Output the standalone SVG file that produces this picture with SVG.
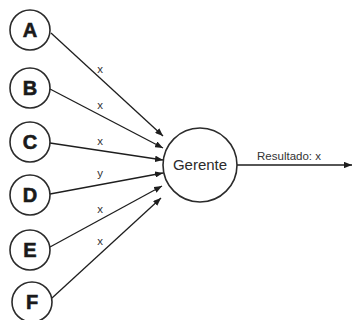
<svg xmlns="http://www.w3.org/2000/svg" width="353" height="320" viewBox="0 0 353 320">
  <style>
    .node circle { fill: #ffffff; stroke: #2b2b2b; stroke-width: 1.6; }
    .letter { font-family: "Liberation Sans", Arial, sans-serif; font-weight: bold; font-size: 20px; fill: #1a1a1a; stroke: #1a1a1a; stroke-width: 0.6; text-anchor: middle; }
    .hub { font-family: "Liberation Sans", Arial, sans-serif; font-size: 15px; fill: #2b2b2b; text-anchor: middle; }
    .edge { stroke: #1e1e1e; stroke-width: 1.3; fill: none; marker-end: url(#arrow); }
    .lbl { font-family: "Liberation Sans", Arial, sans-serif; font-size: 11.5px; fill: #333333; text-anchor: middle; }
  </style>
  <defs>
    <marker id="arrow" viewBox="0 0 10 8" refX="10" refY="4" markerWidth="8" markerHeight="6.4" markerUnits="userSpaceOnUse" orient="auto">
      <path d="M0,0 L10,4 L0,8 Z" fill="#1e1e1e"/>
    </marker>
  </defs>

  <g id="connectors">
    <line class="edge" x1="51" y1="33" x2="163" y2="136"/>
    <line class="edge" x1="50" y1="89" x2="163" y2="148"/>
    <line class="edge" x1="50" y1="143" x2="163" y2="160"/>
    <line class="edge" x1="50" y1="194" x2="163" y2="173"/>
    <line class="edge" x1="50" y1="247" x2="162" y2="186"/>
    <line class="edge" x1="52" y1="298" x2="161" y2="198"/>
    <line class="edge" x1="237" y1="165" x2="352" y2="165"/>
    <text class="lbl" x="100" y="73">x</text>
    <text class="lbl" x="100" y="109">x</text>
    <text class="lbl" x="100" y="145">x</text>
    <text class="lbl" x="100" y="177">y</text>
    <text class="lbl" x="100" y="213">x</text>
    <text class="lbl" x="100" y="245">x</text>
    <text class="lbl" x="289" y="160">Resultado: x</text>
  </g>

  <g id="node-A" class="node">
    <circle cx="30" cy="30" r="20"/>
    <text class="letter" x="30" y="37">A</text>
  </g>
  <g id="node-B" class="node">
    <circle cx="30" cy="88" r="20"/>
    <text class="letter" x="30" y="95">B</text>
  </g>
  <g id="node-C" class="node">
    <circle cx="30" cy="142" r="20"/>
    <text class="letter" x="30" y="149">C</text>
  </g>
  <g id="node-D" class="node">
    <circle cx="30" cy="195" r="20"/>
    <text class="letter" x="30" y="202">D</text>
  </g>
  <g id="node-E" class="node">
    <circle cx="30" cy="250" r="20"/>
    <text class="letter" x="30" y="257">E</text>
  </g>
  <g id="node-F" class="node">
    <circle cx="32" cy="302" r="20"/>
    <text class="letter" x="32" y="309">F</text>
  </g>
  <g id="node-Gerente" class="node">
    <circle cx="200" cy="165" r="37"/>
    <text class="hub" x="200" y="170">Gerente</text>
  </g>
</svg>
